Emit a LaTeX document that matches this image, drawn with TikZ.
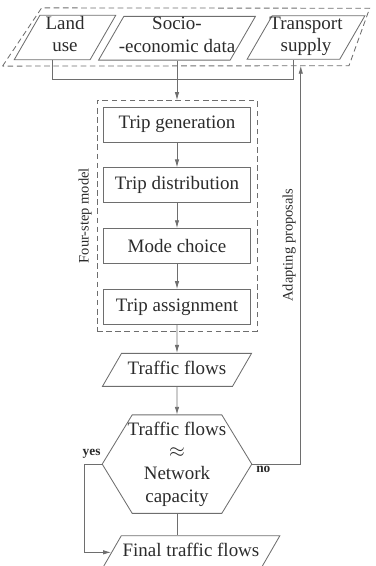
\documentclass[tikz,border=0pt]{standalone}
\usepackage{amsmath,amssymb}
\usepackage{fontspec}
\setmainfont{Liberation Serif}
\usepackage{tikz}
\usetikzlibrary{positioning,arrows.meta,calc,shapes.geometric,fit}
\definecolor{linegray}{HTML}{6E6E6E}
\definecolor{inkgray}{HTML}{2B2B2B}
\newcommand{\mainsize}{\fontsize{13.5}{16}\selectfont}
\newcommand{\notesize}{\fontsize{10.3}{12}\selectfont}
\newcommand{\answersize}{\fontsize{9.5}{11}\selectfont}
\tikzset{
    every node/.style={font=\mainsize,text=inkgray},
    stepbox/.style={rectangle,draw=linegray,line width=0.6pt,minimum width=3.675cm,minimum height=0.875cm,inner sep=0pt},
    databox/.style={trapezium,trapezium left angle=60,trapezium right angle=120,
        draw=linegray,line width=0.6pt,inner xsep=0pt,inner ysep=0.7pt,align=center,
        execute at begin node=\strut,execute at end node=\strut},
    groupbox/.style={draw=linegray,line width=0.6pt,dash pattern=on 4pt off 2.5pt},
    sidenote/.style={font=\notesize},
    answer/.style={font=\answersize\bfseries},
    link/.style={draw=linegray,line width=0.6pt},
    flow/.style={link,-{Latex[length=2mm,width=1.1mm]}}
}

\begin{document}
\begin{tikzpicture}
\useasboundingbox (0,0) rectangle (9.375,14.15);

% four-step model
\node[stepbox] (tgen) at (4.425,11.0375) {Trip generation};
\node[stepbox,below=0.625cm of tgen] (tdist) {Trip distribution};
\node[stepbox,below=0.625cm of tdist] (mode) {Mode choice};
\node[stepbox,below=0.625cm of mode] (tassign) {Trip assignment};
\node[groupbox,fit=(tgen)(tassign),inner sep=0.15cm] (fourstep) {};
\node[sidenote,rotate=90,anchor=south] (fslabel) at (fourstep.west) {Four-step model};

% input data
\node[databox,inner xsep=-3.6pt,above=1.15cm of tgen] (socio) {Socio-\\-economic data};
\node[databox,inner xsep=4pt] (land) at (1.625,13.2125) {Land\\use};
\node[databox,inner xsep=-2pt] (supply) at (7.65,13.2125) {Transport\\supply};
\coordinate (gbl) at ($(land.bottom left corner)+(-0.275,-0.15)$);
\coordinate (gtl) at ($(land.top left corner)+(0.05,0.175)$);
\coordinate (gtr) at ($(supply.top right corner)+(0.1,0.175)$);
\coordinate (gbr) at ($(supply.bottom right corner)+(0.225,-0.15)$);
\draw[groupbox] (gbl) -- (gtl) -- (gtr) -- (gbr) -- cycle;

% results and check
\node[databox,inner ysep=3.75pt,inner xsep=4.4pt,below=0.7cm of tassign] (flows) {Traffic flows};
\node[minimum width=3.725cm,minimum height=2.45cm,inner sep=0pt,align=center,below=0.7cm of flows] (check)
    {Traffic flows\\$\approx$\\Network\\capacity};
\draw[link] (check.west) -- ([xshift=0.75cm]check.north west) -- ([xshift=-0.75cm]check.north east)
    -- (check.east) -- ([xshift=-0.75cm]check.south east) -- ([xshift=0.75cm]check.south west) -- cycle;
\node[databox,inner ysep=3.75pt,inner xsep=1pt,below=0.55cm of check,xshift=0.35cm] (final) {Final traffic flows};

% connectors
\draw[link] (land.bottom side) -- ++(0,-0.475) -| (supply.bottom side);
\draw[flow] (socio.south) -- (socio.south |- fourstep.north);
\draw[flow] (tgen) -- (tdist);
\draw[flow] (tdist) -- (mode);
\draw[flow] (mode) -- (tassign);
\draw[flow] (tassign) -- (flows);
\draw[flow] (flows) -- (check);
\draw[link] (check.south) -- (check.south |- final.north);
\draw[flow] (check.west) -- ++(-0.45,0) |- (final.left side);
\draw[flow] (check.east) -- ++(1.225,0) coordinate (turn) -- (turn |- gbr)
    node[sidenote,pos=0.55,sloped,above] {Adapting proposals};
\node[answer,anchor=south east,inner sep=1pt] (yes) at ([yshift=3pt]check.west) {yes};
\node[answer,anchor=north west,inner sep=1pt] (no) at ([xshift=2pt]check.east) {no};
\end{tikzpicture}
\end{document}
